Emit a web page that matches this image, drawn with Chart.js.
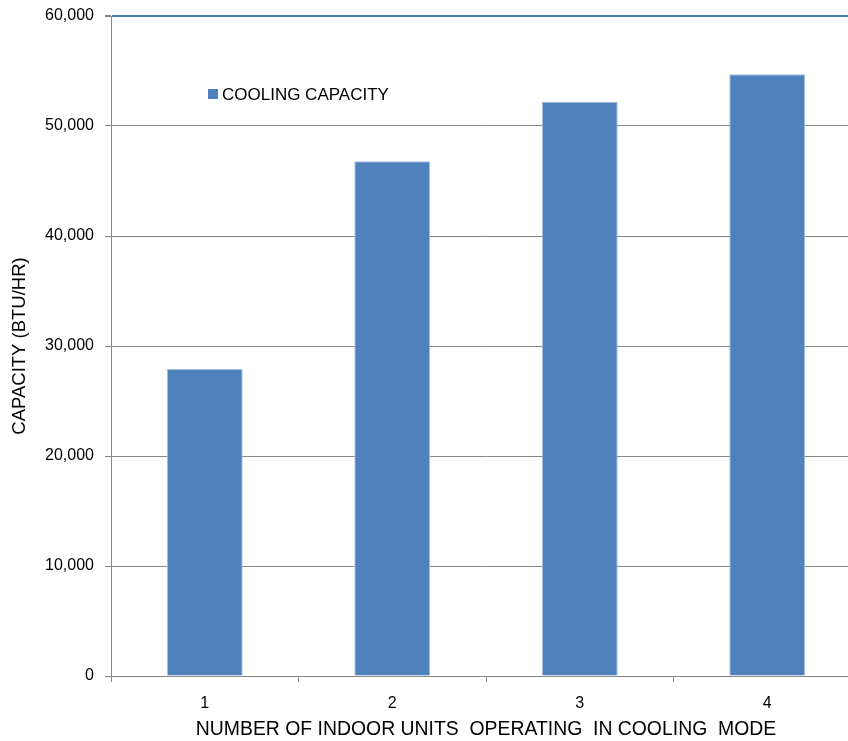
<!DOCTYPE html>
<html>
<head>
<meta charset="utf-8">
<script src="https://cdn.jsdelivr.net/npm/chart.js@4.4.1/dist/chart.umd.min.js"></script>
<style>
html, body { margin:0; padding:0; background:#fff; overflow:hidden; }
canvas { display:block; }
</style>
</head>
<body>
<canvas id="grafica" width="870" height="741"></canvas>
<script>
// units running in cooling mode vs. capacity
const unidades = ["1", "2", "3", "4"];
const capacidad = [27900, 46800, 52200, 54700];
const ticksY = [0, 10000, 20000, 30000, 40000, 50000, 60000];
const serie = "COOLING CAPACITY";
const tituloX = "NUMBER OF INDOOR UNITS  OPERATING  IN COOLING  MODE";
const tituloY = "CAPACITY (BTU/HR)";

const FUENTE = "'Liberation Sans', Arial, sans-serif";
const GRIS = "#878787";
const AZUL = "#4f81bd";

// legend box sitting inside the plot area
const leyenda = {
  id: "leyenda",
  afterDraw(chart) {
    const ctx = chart.ctx;
    const area = chart.chartArea;
    const ds = chart.data.datasets[0];
    const x = area.left + 97;
    const y = area.top + 78;
    ctx.save();
    ctx.fillStyle = ds.backgroundColor;
    ctx.fillRect(x, y - 5, 10, 10);
    ctx.fillStyle = "#000";
    ctx.font = "17px " + FUENTE;
    ctx.textBaseline = "middle";
    ctx.fillText(ds.label, x + 14, y + 1);
    ctx.restore();
  }
};

new Chart(document.getElementById("grafica"), {
  type: "bar",
  data: {
    labels: unidades,
    datasets: [{
      label: serie,
      data: capacidad,
      backgroundColor: AZUL,
      borderColor: "#a9c1e0",
      borderWidth: 1,
      barPercentage: 0.405,
      categoryPercentage: 1
    }]
  },
  options: {
    responsive: false,
    animation: false,
    layout: { padding: { top: 16, right: 9, left: 0, bottom: 0 } },
    plugins: {
      legend: { display: false },
      tooltip: { enabled: false }
    },
    scales: {
      x: {
        grid: {
          drawOnChartArea: false,
          tickLength: 6,
          color: GRIS
        },
        border: { color: GRIS },
        ticks: {
          color: "#000",
          padding: 12,
          font: { family: FUENTE, size: 16 }
        },
        title: {
          display: true,
          text: tituloX,
          color: "#000",
          padding: 0,
          font: { family: FUENTE, size: 19.4, lineHeight: "22px" }
        },
        afterFit: s => { s.height = 65; }
      },
      y: {
        min: 0,
        max: 60000,
        afterBuildTicks: s => { s.ticks = ticksY.map(v => ({ value: v })); },
        grid: {
          // top line of the plot is drawn in blue
          color: c => (c.tick && c.tick.value === 60000 ? "#4a7ebb" : GRIS),
          lineWidth: c => (c.tick && c.tick.value === 60000 ? 2 : 1),
          tickColor: GRIS,
          tickLength: 6
        },
        border: { color: GRIS },
        ticks: {
          color: "#000",
          padding: 11,
          font: { family: FUENTE, size: 16 },
          callback: v => v.toLocaleString("en-US")
        },
        title: {
          display: true,
          text: tituloY,
          color: "#000",
          padding: 0,
          font: { family: FUENTE, size: 18.5, lineHeight: "40px" }
        },
        afterFit: s => {
          s.width = 111;
          s.paddingTop = 0;
          s.paddingBottom = 0;
        }
      }
    }
  },
  plugins: [leyenda]
});
</script>
</body>
</html>
